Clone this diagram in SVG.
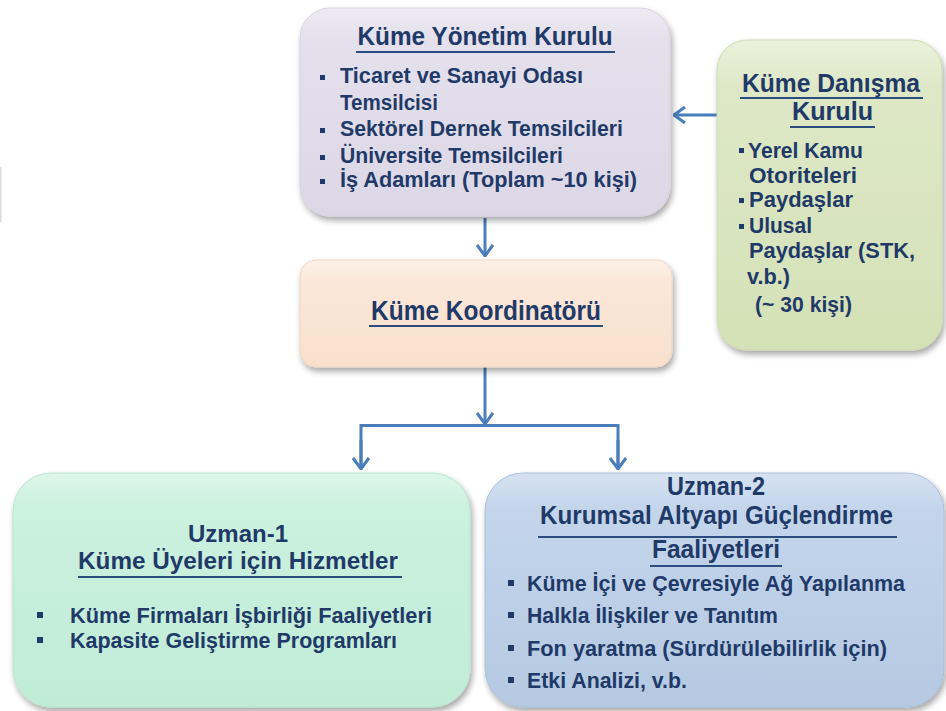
<svg xmlns="http://www.w3.org/2000/svg" width="946" height="711" viewBox="0 0 946 711">
<defs>
<style>
.t{font-family:"Liberation Sans",Arial,sans-serif;font-weight:bold;fill:#1F3A68;}
.h{font-size:25px;text-anchor:middle;}
.b{font-size:22px;}
.u{stroke:#2B4C7E;stroke-width:2;}
.bl{fill:#1F3A68;}
.c{fill:none;stroke:#4A7EBB;stroke-width:3;}
</style>
<filter id="sh" x="-10%" y="-10%" width="125%" height="130%">
<feGaussianBlur in="SourceAlpha" stdDeviation="3"/>
<feOffset dx="2" dy="4" result="o"/>
<feComponentTransfer><feFuncA type="linear" slope="0.35"/></feComponentTransfer>
<feMerge><feMergeNode/><feMergeNode in="SourceGraphic"/></feMerge>
</filter>
<linearGradient id="gTop" x1="0" y1="0" x2="0" y2="1"><stop offset="0" stop-color="#EEEBF3"/><stop offset="0.15" stop-color="#E4E0EC"/><stop offset="1" stop-color="#DCD7E6"/></linearGradient>
<linearGradient id="gGreen" x1="0" y1="0" x2="0" y2="1"><stop offset="0" stop-color="#EBF1DC"/><stop offset="0.15" stop-color="#DEE8C7"/><stop offset="1" stop-color="#D4E1B6"/></linearGradient>
<linearGradient id="gPeach" x1="0" y1="0" x2="0" y2="1"><stop offset="0" stop-color="#FDF1E8"/><stop offset="0.2" stop-color="#FBE7D9"/><stop offset="1" stop-color="#F8E0CC"/></linearGradient>
<linearGradient id="gMint" x1="0" y1="0" x2="0" y2="1"><stop offset="0" stop-color="#DDF7EA"/><stop offset="0.15" stop-color="#CBF1DF"/><stop offset="1" stop-color="#C0ECD6"/></linearGradient>
<linearGradient id="gBlue" x1="0" y1="0" x2="0" y2="1"><stop offset="0" stop-color="#D6E2F1"/><stop offset="0.15" stop-color="#C4D5EB"/><stop offset="1" stop-color="#B5C9E2"/></linearGradient>
<marker id="ar" viewBox="0 0 13 18" refX="12" refY="9" markerWidth="13" markerHeight="18" markerUnits="userSpaceOnUse" orient="auto">
<path d="M1,1 L12,9 L1,17" fill="none" stroke="#4A7EBB" stroke-width="3" stroke-linejoin="miter"/>
</marker>
</defs>
<rect width="946" height="711" fill="#FFFFFF"/>
<rect x="0" y="167" width="1.5" height="55" fill="#DCDCDC"/>

<g id="connectors">
<line class="c" x1="717" y1="115" x2="674" y2="115" marker-end="url(#ar)"/>
<line class="c" x1="485" y1="218" x2="485" y2="256" marker-end="url(#ar)"/>
<line class="c" x1="485" y1="367" x2="485" y2="424" marker-end="url(#ar)"/>
<polyline class="c" points="361,469 361,425.5 618,425.5 618,469"/>
<line class="c" x1="361" y1="440" x2="361" y2="469" marker-end="url(#ar)"/>
<line class="c" x1="618" y1="440" x2="618" y2="469" marker-end="url(#ar)"/>
</g>

<g id="kume-yonetim-kurulu">
<rect x="300" y="8" width="370" height="208" rx="30" fill="url(#gTop)" stroke="#D6D2E0" stroke-width="1" filter="url(#sh)"/>
<text class="t h" x="485" y="45" textLength="255" lengthAdjust="spacingAndGlyphs">Küme Yönetim Kurulu</text>
<line class="u" x1="356" y1="52" x2="615" y2="52"/>
<rect class="bl" x="320" y="75" width="5" height="5"/>
<text class="t b" x="340" y="83" textLength="243" lengthAdjust="spacingAndGlyphs">Ticaret ve Sanayi Odası</text>
<text class="t b" x="340" y="110" textLength="98" lengthAdjust="spacingAndGlyphs">Temsilcisi</text>
<rect class="bl" x="320" y="128" width="5" height="5"/>
<text class="t b" x="340" y="136" textLength="283" lengthAdjust="spacingAndGlyphs">Sektörel Dernek Temsilcileri</text>
<rect class="bl" x="320" y="155" width="5" height="5"/>
<text class="t b" x="340" y="163" textLength="223" lengthAdjust="spacingAndGlyphs">Üniversite Temsilcileri</text>
<rect class="bl" x="320" y="179" width="5" height="5"/>
<text class="t b" x="340" y="187" textLength="297" lengthAdjust="spacingAndGlyphs">İş Adamları (Toplam ~10 kişi)</text>
</g>

<g id="kume-danisma-kurulu">
<rect x="717" y="40" width="225" height="310" rx="30" fill="url(#gGreen)" stroke="#CEDBB0" stroke-width="1" filter="url(#sh)"/>
<text class="t h" x="831" y="92" textLength="178" lengthAdjust="spacingAndGlyphs">Küme Danışma</text>
<line class="u" x1="740" y1="98" x2="923" y2="98"/>
<text class="t h" x="832.5" y="120" textLength="81" lengthAdjust="spacingAndGlyphs">Kurulu</text>
<line class="u" x1="790" y1="127" x2="875" y2="127"/>
<rect class="bl" x="739" y="148" width="5" height="5"/>
<text class="t b" x="748" y="158" textLength="115" lengthAdjust="spacingAndGlyphs">Yerel Kamu</text>
<text class="t b" x="749" y="183" textLength="108" lengthAdjust="spacingAndGlyphs">Otoriteleri</text>
<rect class="bl" x="739" y="198" width="5" height="5"/>
<text class="t b" x="749" y="207" textLength="104" lengthAdjust="spacingAndGlyphs">Paydaşlar</text>
<rect class="bl" x="739" y="224" width="5" height="5"/>
<text class="t b" x="749" y="233" textLength="63" lengthAdjust="spacingAndGlyphs">Ulusal</text>
<text class="t b" x="749" y="258" textLength="166" lengthAdjust="spacingAndGlyphs">Paydaşlar (STK,</text>
<text class="t b" x="747" y="284" textLength="43" lengthAdjust="spacingAndGlyphs">v.b.)</text>
<text class="t b" x="755" y="312" textLength="97" lengthAdjust="spacingAndGlyphs">(~ 30 kişi)</text>
</g>

<g id="kume-koordinatoru">
<rect x="300" y="260" width="372" height="107" rx="16" fill="url(#gPeach)" stroke="#EED6C4" stroke-width="1" filter="url(#sh)"/>
<text class="t h" x="486" y="320" style="font-size:27px" textLength="230" lengthAdjust="spacingAndGlyphs">Küme Koordinatörü</text>
<line class="u" x1="369" y1="326" x2="603" y2="326"/>
</g>

<g id="uzman-1">
<rect x="13" y="473" width="457" height="234" rx="38" fill="url(#gMint)" stroke="#B9E4CF" stroke-width="1" filter="url(#sh)"/>
<text class="t h" x="238" y="542" style="font-size:23px" textLength="100" lengthAdjust="spacingAndGlyphs">Uzman-1</text>
<text class="t h" x="238" y="569" style="font-size:23px" textLength="320" lengthAdjust="spacingAndGlyphs">Küme Üyeleri için Hizmetler</text>
<line class="u" x1="78" y1="577" x2="402" y2="577"/>
<rect class="bl" x="37" y="612" width="6" height="6"/>
<text class="t b" x="70" y="623" textLength="362" lengthAdjust="spacingAndGlyphs">Küme Firmaları İşbirliği Faaliyetleri</text>
<rect class="bl" x="37" y="637" width="6" height="6"/>
<text class="t b" x="70" y="648" textLength="327" lengthAdjust="spacingAndGlyphs">Kapasite Geliştirme Programları</text>
</g>

<g id="uzman-2">
<rect x="485" y="473" width="459" height="234" rx="38" fill="url(#gBlue)" stroke="#A9BFDB" stroke-width="1" filter="url(#sh)"/>
<text class="t h" x="716" y="495" textLength="98" lengthAdjust="spacingAndGlyphs">Uzman-2</text>
<text class="t h" x="716.5" y="524" textLength="353" lengthAdjust="spacingAndGlyphs">Kurumsal Altyapı Güçlendirme</text>
<line class="u" x1="538" y1="537" x2="897" y2="537"/>
<text class="t h" x="716" y="558" textLength="128" lengthAdjust="spacingAndGlyphs">Faaliyetleri</text>
<line class="u" x1="650" y1="566" x2="782" y2="566"/>
<rect class="bl" x="508" y="580" width="6" height="6"/>
<text class="t b" x="527" y="591" textLength="378" lengthAdjust="spacingAndGlyphs">Küme İçi ve Çevresiyle Ağ Yapılanma</text>
<rect class="bl" x="508" y="612" width="6" height="6"/>
<text class="t b" x="527" y="623" textLength="251" lengthAdjust="spacingAndGlyphs">Halkla İlişkiler ve Tanıtım</text>
<rect class="bl" x="508" y="645" width="6" height="6"/>
<text class="t b" x="527" y="656" textLength="360" lengthAdjust="spacingAndGlyphs">Fon yaratma (Sürdürülebilirlik için)</text>
<rect class="bl" x="508" y="677" width="6" height="6"/>
<text class="t b" x="527" y="688" textLength="160" lengthAdjust="spacingAndGlyphs">Etki Analizi, v.b.</text>
</g>
</svg>
